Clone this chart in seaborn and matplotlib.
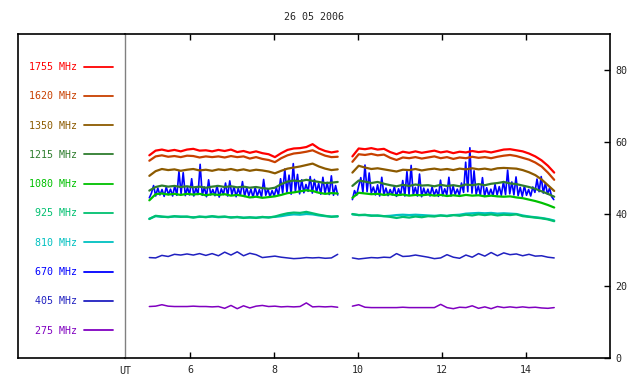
import numpy as np
import pandas as pd
import matplotlib
matplotlib.use("Agg")
import matplotlib.pyplot as plt
import seaborn as sns

# ---------------- data ----------------
TITLE = "26 05 2006"
FREQS = ["275", "405", "670", "810", "925", "1080", "1215", "1350", "1620", "1755"]
COLORS = {"1755": "#ff0000", "1620": "#c84000", "1350": "#8c5a00", "1215": "#2e7d2e",
          "1080": "#00c000", "925": "#00c070", "810": "#00c0c0", "670": "#0000ff",
          "405": "#2020c0", "275": "#8000c0"}
X_TICKS = [6, 8, 10, 12, 14]
Y_TICKS = [0, 20, 40, 60, 80]

LEFT_T = np.linspace(5.02, 9.51, 31)
RIGHT_T = np.linspace(9.86, 14.67, 33)
BLUE_LEFT_T = np.linspace(5.02, 9.51, 90)
BLUE_RIGHT_T = np.linspace(9.86, 14.66, 97)

f1755_left = [56.3, 57.6, 57.9, 57.5, 57.8, 57.4, 57.9, 58.1, 57.6, 57.7, 57.4, 57.8, 57.5, 57.9, 57.2, 57.5,
              57.0, 57.4, 56.9, 56.6, 55.8, 56.9, 57.8, 58.2, 58.3, 58.6, 59.4, 58.2, 57.5, 57.1, 57.4]
f1755_right = [56.0, 58.2, 58.0, 58.3, 57.9, 58.1, 57.2, 56.6, 57.3, 57.0, 57.4, 57.0, 57.3, 57.6, 57.1, 57.4,
               56.9, 57.3, 57.1, 57.5, 57.2, 57.4, 57.1, 57.5, 57.9, 58.0, 57.7, 57.4, 56.8, 56.0, 54.9, 53.4, 51.5]

f1620_left = [54.8, 56.0, 56.3, 55.9, 56.1, 55.8, 56.2, 56.1, 55.7, 56.0, 55.8, 56.0, 55.7, 56.1, 55.8, 56.0,
              55.4, 55.8, 55.3, 55.0, 54.4, 55.5, 56.3, 56.8, 57.0, 57.3, 57.7, 56.9, 56.2, 55.8, 55.9]
f1620_right = [54.5, 56.6, 56.4, 56.7, 56.3, 56.5, 55.6, 55.0, 55.7, 55.5, 55.8, 55.4, 55.7, 56.0, 55.5, 55.8,
               55.3, 55.7, 55.5, 55.9, 55.6, 55.8, 55.5, 55.9, 56.2, 56.4, 56.1, 55.6, 55.1, 54.3, 53.2, 51.5, 49.5]

f1350_left = [50.6, 51.9, 52.5, 52.2, 52.4, 52.0, 52.3, 52.5, 52.1, 52.3, 52.0, 52.4, 52.2, 52.5, 52.1, 52.4,
              52.0, 52.3, 52.1, 51.8, 51.3, 52.0, 52.6, 52.9, 53.2, 53.6, 54.0, 53.2, 52.6, 52.2, 52.4]
f1350_right = [51.5, 53.4, 52.9, 52.5, 52.7, 52.4, 52.1, 51.8, 52.3, 52.2, 52.5, 52.1, 52.4, 52.6, 52.3, 52.5,
               52.2, 52.6, 52.4, 52.7, 52.4, 52.6, 52.3, 52.7, 52.8, 52.7, 52.6, 52.2, 51.6, 50.8, 49.6, 48.0, 46.4]

f1215_left = [46.5, 47.5, 47.9, 47.6, 47.8, 47.5, 47.7, 47.4, 47.6, 47.3, 47.6, 47.8, 47.5, 47.7, 47.4, 47.6,
              47.3, 47.5, 47.2, 47.0, 47.3, 48.3, 49.0, 49.3, 49.1, 49.5, 49.2, 48.9, 48.6, 48.7, 48.9]
f1215_right = [47.8, 49.3, 49.0, 48.6, 48.9, 48.4, 48.0, 47.7, 48.1, 47.8, 48.2, 47.9, 48.0, 47.7, 48.1, 47.8,
               48.0, 47.7, 48.2, 48.0, 48.3, 48.0, 48.4, 48.6, 48.9, 48.5, 48.3, 47.9, 47.5, 47.0, 46.3, 45.6, 44.8]

f1080_left = [43.8, 45.5, 45.7, 45.4, 45.6, 45.3, 45.6, 45.4, 45.6, 45.2, 45.5, 45.3, 45.5, 45.1, 45.3, 45.0,
              44.6, 44.8, 44.5, 44.7, 44.9, 45.3, 45.8, 46.0, 46.3, 46.6, 46.4, 45.9, 45.6, 45.8, 45.7]
f1080_right = [44.5, 45.9, 45.7, 45.5, 45.6, 45.3, 45.5, 45.2, 45.4, 45.1, 45.3, 45.2, 45.4, 45.1, 45.3, 45.0,
               45.2, 45.0, 45.3, 45.1, 45.2, 44.9, 45.1, 44.9, 44.8, 44.9, 44.6, 44.4, 44.0, 43.6, 43.1, 42.5, 41.8]

f925_left = [38.6, 39.5, 39.3, 39.1, 39.4, 39.2, 39.3, 39.0, 39.3, 39.1, 39.4, 39.2, 39.3, 39.0, 39.2, 38.9,
             39.1, 38.9, 39.2, 39.0, 39.3, 39.8, 40.2, 40.4, 40.3, 40.6, 40.2, 39.8, 39.5, 39.2, 39.4]
f925_right = [40.0, 39.7, 39.8, 39.5, 39.6, 39.4, 39.2, 38.9, 39.2, 39.0, 39.3, 39.1, 39.4, 39.3, 39.6, 39.4,
              39.7, 39.5, 39.8, 39.6, 39.9, 39.7, 39.9, 39.6, 39.8, 39.7, 39.9, 39.4, 39.2, 39.0, 38.8, 38.5, 38.0]

f810_left = [38.7, 39.4, 39.2, 39.2, 39.3, 39.3, 39.2, 39.1, 39.2, 39.2, 39.3, 39.1, 39.2, 39.1, 39.1, 39.0,
             39.0, 39.0, 39.1, 39.1, 39.2, 39.4, 39.7, 39.9, 39.8, 40.0, 39.9, 39.6, 39.4, 39.3, 39.3]
f810_right = [39.9, 39.7, 39.7, 39.6, 39.5, 39.4, 39.5, 39.7, 39.8, 39.7, 39.8, 39.7, 39.6, 39.5, 39.6, 39.5,
              39.7, 39.8, 40.1, 40.2, 40.3, 40.2, 40.3, 40.1, 40.2, 40.1, 40.0, 39.6, 39.3, 39.1, 38.9, 38.6, 38.2]

f670_left = [44.5, 45.8, 47.9, 45.0, 47.2, 45.3, 46.8, 44.9, 47.5, 45.4,
             46.9, 45.0, 47.8, 45.2, 51.8, 45.6, 51.5, 45.1, 47.4, 45.3,
             49.8, 45.0, 47.2, 45.4, 53.8, 45.2, 47.5, 44.8, 49.5, 45.3,
             46.8, 45.1, 47.9, 44.7, 47.0, 45.4, 48.6, 45.0, 49.2, 45.3,
             47.6, 44.8, 47.1, 45.2, 49.0, 44.9, 47.3, 45.1, 46.9, 44.6,
             47.4, 45.0, 46.8, 44.7, 49.6, 45.2, 47.0, 44.8, 46.5, 45.0,
             47.3, 45.2, 49.8, 45.8, 52.5, 46.0, 50.8, 45.5, 54.0, 46.2,
             51.0, 45.6, 49.5, 45.9, 48.2, 46.3, 50.4, 45.8, 49.6, 46.0,
             48.5, 45.5, 50.2, 45.7, 48.8, 45.4, 50.6, 45.2, 47.9, 45.3]
f670_right = [44.0, 46.5, 45.2, 47.8, 50.1, 46.0, 53.6, 46.2, 51.4, 45.8,
              47.5, 45.3, 48.1, 45.0, 50.2, 45.4, 47.2, 45.1, 46.8, 45.3,
              47.6, 44.9, 47.0, 45.2, 49.3, 45.0, 51.8, 45.4, 53.5, 45.3,
              47.4, 45.0, 51.1, 44.8, 47.2, 45.3, 46.9, 45.0, 47.5, 45.2,
              46.8, 44.9, 49.4, 45.1, 47.0, 45.3, 50.2, 45.0, 47.8, 45.4,
              46.9, 45.2, 48.6, 46.0, 54.4, 46.2, 58.4, 45.8, 52.0, 45.5,
              47.8, 45.2, 50.1, 44.9, 47.3, 45.1, 46.9, 45.0, 48.2, 45.3,
              47.6, 45.2, 49.0, 45.4, 52.2, 45.6, 48.9, 45.3, 50.3, 45.1,
              47.4, 44.9, 47.8, 45.2, 46.8, 45.0, 47.5, 46.0, 49.7, 46.2,
              50.4, 45.8, 48.6, 45.5, 47.2, 44.8, 44.0]

f405_left = [27.9, 27.8, 28.5, 28.2, 28.8, 28.6, 28.9, 28.6, 29.0, 28.5, 29.0, 28.4, 29.4, 28.6, 29.5, 28.4,
             29.1, 28.7, 27.9, 28.1, 28.3, 28.0, 27.8, 27.6, 27.7, 27.9, 27.8, 27.9, 27.7, 27.8, 28.8]
f405_right = [27.8, 27.5, 27.7, 27.9, 27.8, 28.0, 27.9, 29.0, 28.2, 28.3, 28.6, 28.3, 28.0, 27.6, 27.8, 28.7,
              28.0, 27.7, 28.6, 28.0, 29.0, 28.3, 29.3, 28.4, 29.2, 28.7, 28.9, 28.4, 28.8, 28.3, 28.4, 28.0, 27.8]

f275_left = [14.3, 14.4, 14.8, 14.4, 14.3, 14.3, 14.3, 14.4, 14.3, 14.3, 14.2, 14.3, 13.8, 14.6, 13.7, 14.5,
             13.9, 14.4, 14.6, 14.3, 14.4, 14.2, 14.3, 14.2, 14.3, 15.3, 14.2, 14.3, 14.2, 14.3, 14.1]
f275_right = [14.4, 14.8, 14.1, 14.0, 14.0, 14.0, 14.0, 14.0, 14.1, 14.0, 14.0, 14.0, 14.0, 14.0, 14.9, 14.0,
              13.7, 14.1, 14.0, 14.5, 13.8, 14.2, 13.7, 14.3, 14.0, 14.2, 14.0, 14.2, 14.0, 14.1, 13.9, 13.8, 14.0]

SERIES = {
    "275": (f275_left, f275_right), "405": (f405_left, f405_right),
    "670": (f670_left, f670_right), "810": (f810_left, f810_right),
    "925": (f925_left, f925_right), "1080": (f1080_left, f1080_right),
    "1215": (f1215_left, f1215_right), "1350": (f1350_left, f1350_right),
    "1620": (f1620_left, f1620_right), "1755": (f1755_left, f1755_right),
}

# ---------------- style ----------------
sns.set_style("white")
plt.rcParams["font.family"] = ["DejaVu Sans Mono", "DejaVu Sans"]
FS = 7.2

W, H = 640, 384
fig = plt.figure(figsize=(6.4, 3.84), dpi=100)
axL = fig.add_axes([18 / W, 1 - 358 / H, 107 / W, 324 / H])
ax = fig.add_axes([125 / W, 1 - 358 / H, 485 / W, 324 / H])

for key in FREQS:
    left, right = SERIES[key]
    if key == "670":
        tl, tr, lw = BLUE_LEFT_T, BLUE_RIGHT_T, 1.2
    else:
        tl, tr = LEFT_T, RIGHT_T
        lw = 1.1 if key in ("405", "275") else 1.6
    sns.lineplot(x=tl, y=left, color=COLORS[key], lw=lw, ax=ax, label=f"{key} MHz")
    sns.lineplot(x=tr, y=right, color=COLORS[key], lw=lw, ax=ax)

handles, labels = ax.get_legend_handles_labels()
if ax.get_legend() is not None:
    ax.get_legend().remove()

ax.set_xlim(4.44, 16.0)
ax.set_ylim(0, 90)
ax.set_xticks(X_TICKS)
ax.set_xticklabels([str(t) for t in X_TICKS])
ax.set_yticks(Y_TICKS)
ax.set_yticklabels([str(t) for t in Y_TICKS])
ax.set_xlabel("")
ax.set_ylabel("")
ax.tick_params(axis="x", direction="in", length=4, width=1, top=True, bottom=True,
               labelsize=FS, pad=5, color="black")
ax.tick_params(axis="y", direction="in", length=4, width=1, left=False, right=True,
               labelleft=False, labelright=True, labelsize=FS, pad=4, color="black")
for s in ["top", "bottom", "right"]:
    ax.spines[s].set_color("black")
    ax.spines[s].set_linewidth(1.2)
ax.spines["left"].set_color("#808080")
ax.spines["left"].set_linewidth(1.0)

axL.set_xticks([])
axL.set_yticks([])
for s in ["top", "bottom", "left"]:
    axL.spines[s].set_color("black")
    axL.spines[s].set_linewidth(1.2)
axL.spines["right"].set_visible(False)

leg = fig.legend(handles[::-1], labels[::-1], loc="upper right",
                 bbox_to_anchor=(113 / W, 1 - 62 / H), frameon=False,
                 markerfirst=False, labelcolor="linecolor", fontsize=FS,
                 handlelength=2.9, handletextpad=0.7, labelspacing=1.93,
                 borderpad=0, borderaxespad=0)
for ln in leg.get_lines():
    ln.set_linewidth(1.3)

fig.text(314 / W, 1 - 17 / H, TITLE, ha="center", va="center", fontsize=FS)
fig.text(125 / W, 1 - 371 / H, "UT", ha="center", va="center", fontsize=FS)

fig.savefig("out.png", dpi=100)
